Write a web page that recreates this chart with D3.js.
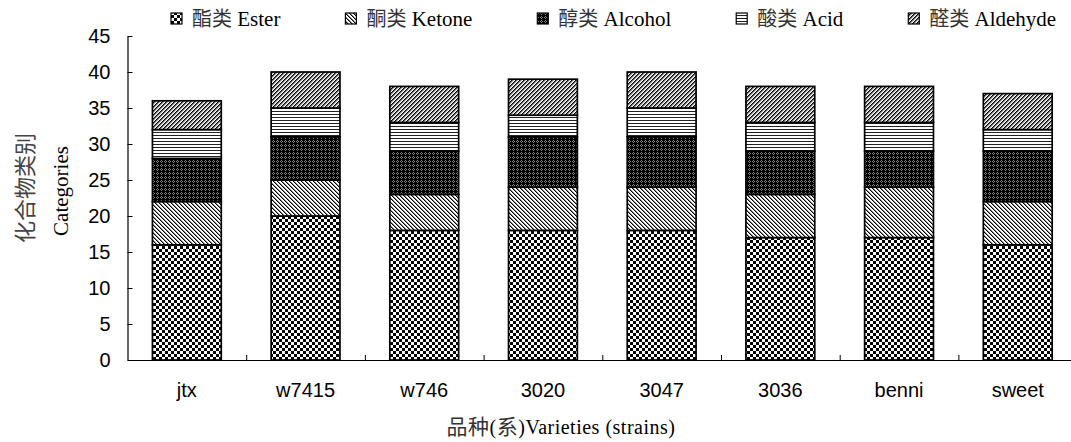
<!DOCTYPE html>
<html>
<head>
<meta charset="utf-8">
<script src="https://cdn.jsdelivr.net/npm/d3@7/dist/d3.min.js"></script>
<style>
  html, body { margin: 0; padding: 0; background: #fff; }
  svg { display: block; }
</style>
</head>
<body>
<svg id="chart" width="1071" height="442"></svg>
<script>
// Varieties (strains) on the x axis
const categories = ["jtx", "w7415", "w746", "3020", "3047", "3036", "benni", "sweet"];

// Number of compounds in each class, per variety
const ester    = [16, 20, 18, 18, 18, 17, 17, 16];
const ketone   = [6, 5, 5, 6, 6, 6, 7, 6];
const alcohol  = [6, 6, 6, 7, 7, 6, 5, 7];
const acid     = [4, 4, 4, 3, 4, 4, 4, 3];
const aldehyde = [4, 5, 5, 5, 5, 5, 5, 5];

// Series labels (Chinese + English)
const seriesKeys = ["ester", "ketone", "alcohol", "acid", "aldehyde"];
const seriesZh = ["酯类", "酮类", "醇类", "酸类", "醛类"];
const seriesEn = ["Ester", "Ketone", "Alcohol", "Acid", "Aldehyde"];

// Y axis ticks
const yTicks = [0, 5, 10, 15, 20, 25, 30, 35, 40, 45];

const seriesValues = { ester, ketone, alcohol, acid, aldehyde };
const rows = categories.map((c, i) => {
  const r = { category: c };
  seriesKeys.forEach(k => { r[k] = seriesValues[k][i]; });
  return r;
});

const svg = d3.select("#chart");
const W = 1071, H = 442;
svg.append("rect").attr("width", W).attr("height", H).attr("fill", "#fff");

// ---- Fill patterns (pixel textures) ----
const defs = svg.append("defs");
function pixelPattern(id, size, bg, pixels) {
  const p = defs.append("pattern")
    .attr("id", id)
    .attr("patternUnits", "userSpaceOnUse")
    .attr("width", size[0]).attr("height", size[1]);
  p.append("rect").attr("width", size[0]).attr("height", size[1]).attr("fill", bg);
  pixels.forEach(([px, py, w, h, c]) => {
    p.append("rect").attr("x", px).attr("y", py).attr("width", w).attr("height", h)
      .attr("fill", c).attr("shape-rendering", "crispEdges");
  });
}
// checkerboard
pixelPattern("pat-ester", [6, 6], "#fff", [[0, 0, 3, 3, "#000"], [3, 3, 3, 3, "#000"]]);
// fine "\" hatch
pixelPattern("pat-ketone", [4, 4], "#fff",
  d3.range(4).flatMap(i => [[i, i, 1, 1, "#000"], [(i + 1) % 4, i, 1, 1, "#888"]]));
// dark with small grey rings
pixelPattern("pat-alcohol", [4, 4], "#000",
  [[1, 0, 1, 1, "#808080"], [0, 1, 1, 1, "#808080"], [2, 1, 1, 1, "#808080"], [1, 2, 1, 1, "#808080"]]);
// horizontal lines
pixelPattern("pat-acid", [3, 3], "#fff", [[0, 0, 3, 1, "#222"]]);
// fine "/" hatch
pixelPattern("pat-aldehyde", [4, 4], "#fff",
  d3.range(4).flatMap(i => [[3 - i, i, 1, 1, "#000"], [(4 - i) % 4, i, 1, 1, "#666"], [(5 - i) % 4, i, 1, 1, "#bbb"]]));

const fills = {
  ester: "url(#pat-ester)", ketone: "url(#pat-ketone)", alcohol: "url(#pat-alcohol)",
  acid: "url(#pat-acid)", aldehyde: "url(#pat-aldehyde)"
};

// ---- Scales ----
const plotLeft = 127.5, plotTop = 36, plotBottom = 360;
const step = 118.7;
const plotRight = plotLeft + step * categories.length;

const x = d3.scaleBand()
  .domain(categories)
  .range([plotLeft, plotRight])
  .paddingInner(0.42)
  .paddingOuter(0.21);

const y = d3.scaleLinear().domain([0, 45]).range([plotBottom, plotTop]);

// ---- Stacked bars ----
const stacked = d3.stack().keys(seriesKeys)(rows);

svg.append("g").selectAll("g")
  .data(stacked)
  .join("g")
  .attr("fill", d => fills[d.key])
  .selectAll("rect")
  .data(d => d)
  .join("rect")
  .attr("x", d => x(d.data.category))
  .attr("width", x.bandwidth())
  .attr("y", d => y(d[1]))
  .attr("height", d => y(d[0]) - y(d[1]))
  .attr("stroke", "#000")
  .attr("stroke-width", 1.7);

// ---- Y axis ----
const yAxis = svg.append("g")
  .attr("transform", `translate(${plotLeft},0)`)
  .call(d3.axisLeft(y).tickValues(yTicks).tickSizeInner(-5).tickSizeOuter(0).tickPadding(17));
yAxis.select(".domain").attr("stroke", "#000").attr("stroke-width", 1.2);
yAxis.selectAll(".tick line").attr("stroke", "#000").attr("stroke-width", 1);
yAxis.selectAll(".tick text")
  .attr("font-family", "'Liberation Sans', Arial, sans-serif")
  .attr("font-size", 20)
  .attr("fill", "#000");

// ---- X axis (ticks at category boundaries) ----
const xSlots = d3.scaleLinear().domain([0, categories.length]).range([plotLeft, plotRight]);
const xAxis = svg.append("g")
  .attr("transform", `translate(0,${plotBottom})`)
  .call(d3.axisBottom(xSlots).tickValues(d3.range(1, categories.length + 1))
    .tickFormat("").tickSizeInner(-5).tickSizeOuter(0));
xAxis.select(".domain").attr("stroke", "#000").attr("stroke-width", 1.2);
xAxis.selectAll(".tick line").attr("stroke", "#000").attr("stroke-width", 1);

svg.append("g").selectAll("text")
  .data(categories)
  .join("text")
  .attr("x", d => x(d) + x.bandwidth() / 2)
  .attr("y", 397)
  .attr("text-anchor", "middle")
  .attr("font-family", "'Liberation Sans', Arial, sans-serif")
  .attr("font-size", 20)
  .attr("fill", "#000")
  .text(d => d);

// ---- Axis titles ----
svg.append("text")
  .attr("transform", "translate(23,188) rotate(-90)")
  .attr("text-anchor", "middle")
  .attr("dominant-baseline", "central")
  .attr("font-family", "'Noto Sans CJK SC', sans-serif")
  .attr("font-size", 22)
  .attr("fill", "#444")
  .text("化合物类别");

svg.append("text")
  .attr("transform", "translate(61,191) rotate(-90)")
  .attr("text-anchor", "middle")
  .attr("dominant-baseline", "central")
  .attr("font-family", "'Liberation Serif', 'Times New Roman', serif")
  .attr("font-size", 21)
  .attr("fill", "#000")
  .text("Categories");

const xTitle = svg.append("text")
  .attr("x", 561)
  .attr("y", 434)
  .attr("text-anchor", "middle")
  .attr("font-family", "'Liberation Serif', 'Times New Roman', serif")
  .attr("font-size", 20)
  .attr("letter-spacing", 0.5)
  .attr("fill", "#000");
xTitle.append("tspan").attr("font-family", "'Noto Sans CJK SC', sans-serif")
  .attr("font-size", 21).attr("fill", "#333").text("品种");
xTitle.append("tspan").text("(");
xTitle.append("tspan").attr("font-family", "'Noto Sans CJK SC', sans-serif")
  .attr("font-size", 21).attr("fill", "#333").text("系");
xTitle.append("tspan").text(")Varieties (strains)");

// ---- Legend ----
const legend = svg.append("g");
let lx = 171;
seriesKeys.forEach((k, i) => {
  const g = legend.append("g");
  g.append("rect")
    .attr("x", lx).attr("y", 13)
    .attr("width", 11).attr("height", 11)
    .attr("fill", fills[k])
    .attr("stroke", "#000").attr("stroke-width", 1.2);
  const t = g.append("text")
    .attr("x", lx + 21)
    .attr("y", 26)
    .attr("font-family", "'Liberation Serif', 'Times New Roman', serif")
    .attr("font-size", 21)
    .attr("fill", "#000");
  t.append("tspan").attr("font-family", "'Noto Sans CJK SC', sans-serif")
    .attr("font-size", 20).attr("fill", "#333").text(seriesZh[i]);
  t.append("tspan").text(" " + seriesEn[i]);
  const w = t.node().getComputedTextLength();
  lx = lx + 21 + w + 65;
});
</script>
</body>
</html>
